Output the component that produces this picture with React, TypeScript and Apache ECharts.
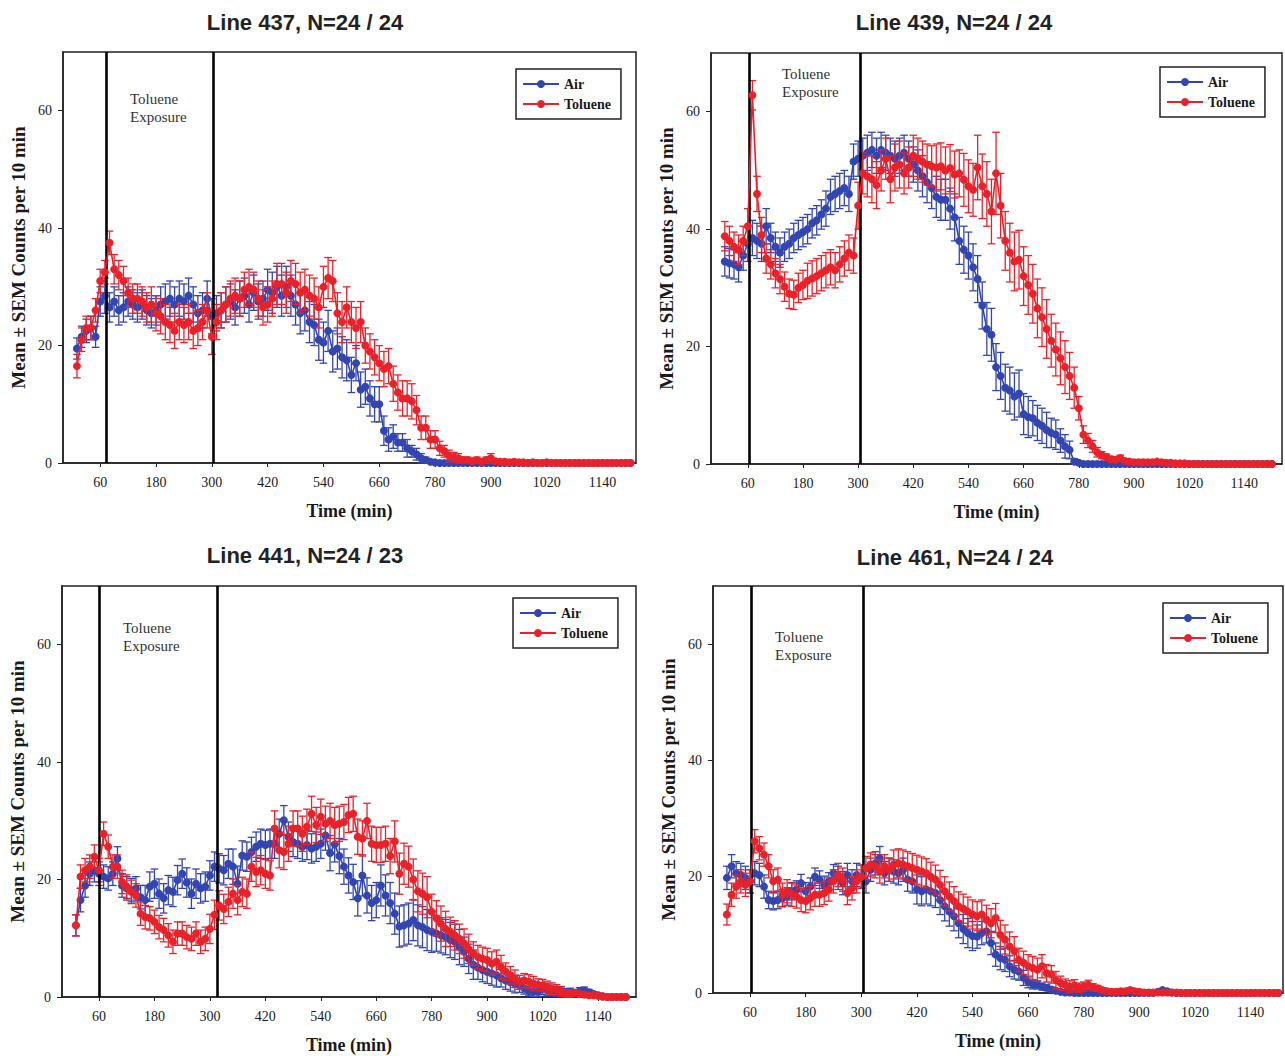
import React, { useEffect, useRef } from "react";
import * as echarts from "echarts";

// ---------- DATA ----------
// sampling times (min): 10, 20, ..., 1200
const SAMPLE_START = 10;
const SAMPLE_STEP = 10;
const SAMPLE_COUNT = 120;
const TIMES: number[] = Array.from({ length: SAMPLE_COUNT }, (_, i) => SAMPLE_START + i * SAMPLE_STEP);

const X_TICKS = [60, 180, 300, 420, 540, 660, 780, 900, 1020, 1140];
const Y_TICKS = [0, 20, 40, 60];

const TITLES = ["Line 437, N=24 / 24", "Line 439, N=24 / 24", "Line 441, N=24 / 23", "Line 461, N=24 / 24"];
const SERIES_NAMES = ["Air", "Toluene"];
const EXPOSURE_NOTE = "Toluene\nExposure";
const X_NAME = "Time (min)";
const Y_NAME = "Mean \u00b1 SEM Counts per 10 min";

// exposure start / end markers (min)
const EXPOSURE_437 = [72, 304];
const EXPOSURE_439 = [64, 304];
const EXPOSURE_441 = [60, 315];
const EXPOSURE_461 = [62, 304];

// ---- Line 437 ----
const L437_AIR = [
  19.5, 21.5, 22.5, 23, 21.5, 27.5, 28.5, 26.5, 27.5, 26, 26.5, 27.5,
  27, 26.5, 27, 26, 25.5, 26, 27, 27.5, 28, 27, 28, 27.5,
  28.5, 27, 25.5, 26, 28, 25, 25.5, 26, 27, 27.5, 26.5, 28,
  28.5, 27, 29, 27.5, 28, 29.5, 29, 30, 28.5, 30, 28.5, 27,
  25.5, 26, 24, 23.5, 21, 20.5, 22.5, 19, 19.5, 18, 17.5, 15,
  17, 12.5, 13, 11, 10, 10, 5.5, 4, 4.5, 3.5, 3.5, 2.5,
  2, 1.5, 0.8, 0.5, 0.2, 0.1, 0, 0, 0, 0, 0, 0,
  0, 0, 0, 0, 0, 0, 0, 0, 0, 0, 0, 0,
  0, 0, 0, 0, 0, 0, 0, 0, 0, 0, 0, 0,
  0, 0, 0, 0, 0, 0, 0, 0, 0, 0, 0, 0,
];
const L437_AIR_SEM = [
  1.8, 1.8, 2, 2, 1.8, 2.5, 3, 2.5, 2.5, 2.5, 2.5, 2.5,
  2.5, 2.5, 2.5, 2.5, 2.5, 2.5, 3, 3, 3, 3, 3, 3,
  3, 3, 3, 3, 3, 3, 3, 3, 3, 3, 3, 3,
  3, 3, 3, 3, 3, 3.5, 3.5, 3.5, 3.5, 3.5, 3.5, 3.5,
  3.5, 3.5, 3.5, 3.5, 3.5, 3.5, 3.5, 3.5, 3.5, 3.5, 3.5, 3,
  3, 3, 3, 3, 3, 3, 2.5, 2, 2, 1.5, 1.5, 1.5,
  1, 1, 0.8, 0.5, 0.3, 0.2, 0.1, 0, 0, 0, 0, 0,
  0, 0, 0, 0, 0, 0, 0, 0, 0, 0, 0, 0,
  0, 0, 0, 0, 0, 0, 0, 0, 0, 0, 0, 0,
  0, 0, 0, 0, 0, 0, 0, 0, 0, 0, 0, 0,
];
const L437_TOL = [
  16.5, 21, 23, 23, 26, 31, 32.5, 37.5, 33, 32, 31, 29,
  28, 28, 27.5, 26.5, 27, 25.5, 25, 24, 23.5, 22.5, 24, 23.5,
  24, 22.5, 23, 24, 26, 21.5, 24, 26, 27, 28, 28.5, 28,
  29.5, 30, 29.5, 28, 26.5, 27, 28, 30.5, 30.5, 29, 31, 30.5,
  29, 29.5, 28.5, 28, 26.5, 30, 31.5, 31, 25.5, 24, 26.5, 24,
  23, 24, 20, 19, 18, 17, 16, 16.5, 13.5, 12, 11, 11,
  10.5, 9, 6, 6, 4, 4, 2.5, 2, 1.2, 1, 0.8, 0.5,
  0.5, 0.3, 0.5, 0.2, 0.5, 0.8, 0.3, 0.2, 0.2, 0.1, 0.2, 0.1,
  0.1, 0, 0.1, 0, 0, 0.1, 0, 0, 0, 0, 0, 0,
  0, 0, 0, 0, 0, 0, 0, 0, 0, 0, 0, 0,
];
const L437_TOL_SEM = [
  2, 2, 2, 2, 2, 2, 2, 2, 2.5, 2.5, 2.5, 2.5,
  2.5, 2.5, 2.5, 2.5, 3, 3, 3, 3, 3, 3, 3, 3,
  3, 3, 3, 3, 3, 3, 3, 3, 3, 3, 3, 3,
  3, 3, 3, 3, 3, 3, 3, 3.5, 3.5, 3.5, 3.5, 3.5,
  3.5, 3.5, 3.5, 3.5, 3.5, 3.5, 3.5, 3.5, 3.5, 3.5, 3.5, 3.5,
  3.5, 3.5, 3, 3, 3, 3, 3, 3, 3, 3, 3, 3,
  3, 2.5, 2, 2, 1.5, 1.5, 1.2, 1, 1, 0.8, 0.8, 0.5,
  0.5, 0.5, 0.5, 0.3, 0.5, 0.8, 0.3, 0.2, 0.2, 0.1, 0.2, 0.1,
  0.1, 0, 0.1, 0, 0, 0.1, 0, 0, 0, 0, 0, 0,
  0, 0, 0, 0, 0, 0, 0, 0, 0, 0, 0, 0,
];

// ---- Line 439 ----
const L439_AIR = [
  34.5, 34.2, 34, 33.5, 35.5, 37.5, 38.5, 38, 37.5, 40.5, 38.5, 37,
  36, 37, 37.5, 38.5, 39, 39.5, 40, 41, 41.5, 42.5, 43.5, 45.5,
  46, 46.5, 47, 46, 51.5, 52, 52.5, 53, 53.5, 52.5, 53.5, 53,
  52.5, 52, 52.5, 53, 52, 51, 50, 49, 48, 47, 45.5, 45,
  45, 43.5, 42, 38, 36.5, 35.5, 33.5, 31.5, 27, 23, 22, 16.5,
  15, 13, 12.5, 11.5, 12, 8.5, 8, 7.8, 7, 6.5, 5.8, 5.3,
  5, 4, 3, 2.4, 0.4, 0.2, 0, 0, 0, 0, 0, 0,
  0, 0, 0, 0, 0, 0, 0, 0, 0, 0, 0, 0,
  0, 0, 0, 0, 0, 0, 0, 0, 0, 0, 0, 0,
  0, 0, 0, 0, 0, 0, 0, 0, 0, 0, 0, 0,
];
const L439_AIR_SEM = [
  2.5, 2.5, 2.5, 2.5, 2.5, 3, 3, 3, 3, 3, 2.5, 2.5,
  2.5, 2.5, 2.5, 2.5, 2.5, 2.5, 2.5, 2.5, 2.5, 2.5, 3, 3,
  3, 3, 3, 3, 3, 3, 3, 3, 3, 3, 3, 3,
  3, 3, 3, 3, 3, 3, 3.5, 3.5, 3.5, 3.5, 3.5, 3.5,
  3.5, 3.5, 4, 4, 4, 4, 4, 4, 4, 4.5, 4.5, 4,
  4, 4, 4, 4, 4, 3.5, 3.5, 3, 3, 3, 3, 2.5,
  2.5, 2, 2, 1.5, 0.5, 0.2, 0, 0, 0, 0, 0, 0,
  0, 0, 0, 0, 0, 0, 0, 0, 0, 0, 0, 0,
  0, 0, 0, 0, 0, 0, 0, 0, 0, 0, 0, 0,
  0, 0, 0, 0, 0, 0, 0, 0, 0, 0, 0, 0,
];
const L439_TOL = [
  38.8, 38, 37, 36.5, 38, 40.5, 62.8, 46, 39, 35, 34, 32.5,
  31.5, 30.2, 29, 28.8, 30, 30.5, 31.2, 31.6, 32, 32.5, 33, 33.5,
  33, 34, 35, 36, 35.5, 44, 49.5, 49, 48.5, 47.5, 50, 52,
  48.5, 50.5, 51, 49.5, 50.5, 52.5, 52, 51.5, 51, 50.7, 50.5, 50.7,
  50, 50.4, 49.3, 49.5, 48.4, 47.3, 46.7, 50.5, 47.3, 46, 43, 49.5,
  44, 38, 36, 34.5, 34.8, 32, 30.5, 29, 26.5, 25, 23, 21,
  19.5, 18, 16.5, 15, 13, 9.5, 5, 4, 3, 2, 1.5, 1.2,
  0.8, 0.7, 1, 0.5, 0.4, 0.3, 0.3, 0.3, 0.3, 0.3, 0.4, 0.3,
  0.2, 0.2, 0.1, 0.1, 0.1, 0, 0, 0, 0, 0, 0, 0,
  0, 0, 0, 0, 0, 0, 0, 0, 0, 0, 0, 0,
];
const L439_TOL_SEM = [
  2.5, 2.5, 2.5, 2.5, 2.5, 3, 2.5, 3, 3, 2.5, 2.5, 2.5,
  2.5, 2.5, 2.5, 2.5, 2.5, 2.5, 3, 3, 3, 3, 3, 3,
  3, 3, 3, 3, 3, 4, 3.5, 3.5, 4, 4, 3.5, 3.5,
  4, 4, 4, 3.5, 3.5, 3.5, 3.5, 3.5, 3.5, 3.5, 4, 4,
  4, 4, 4, 4, 4.5, 4.5, 4.5, 5.5, 5.5, 5.5, 5.5, 7,
  5.5, 5, 5, 5, 5, 5, 5, 5, 5, 5, 5, 4.5,
  4.5, 4.5, 4.5, 4, 3.5, 2, 1.5, 1.2, 1, 0.8, 0.6, 0.5,
  0.5, 0.3, 0.5, 0.3, 0.2, 0.2, 0.2, 0.2, 0.2, 0.2, 0.3, 0.2,
  0.1, 0.1, 0.1, 0.1, 0.1, 0, 0, 0, 0, 0, 0, 0,
  0, 0, 0, 0, 0, 0, 0, 0, 0, 0, 0, 0,
];

// ---- Line 441 ----
const L441_AIR = [
  12.2, 16.5, 19, 21, 21.6, 21, 20.5, 20.2, 21, 23.6, 19, 18.5,
  18.2, 18.5, 17, 16.5, 18.8, 19.3, 17.6, 16.8, 18.2, 17.9, 19.9, 21,
  19.5, 17.6, 19.3, 18.5, 18.8, 20.7, 22.2, 21.9, 21.6, 22.7, 22.2, 19.3,
  24.1, 23.9, 24.7, 25.6, 26.1, 25.9, 26.1, 26.1, 27.8, 30.1, 27.3, 26.4,
  26.1, 25.6, 25.9, 25.3, 25.6, 26.1, 27.5, 24.5, 26, 24, 22.2, 20.7,
  19.6, 16.8, 20.7, 17.3, 16, 16.5, 19, 17.3, 16, 14.2, 12, 12.2,
  12.5, 13.1, 12.2, 11.9, 11.4, 11.1, 10.8, 10.5, 10.2, 9.7, 9.4, 8.5,
  7.7, 6.5, 5.5, 5, 4.6, 4.3, 4, 3.7, 3.2, 2.8, 2.5, 2.2,
  2, 1.5, 1, 0.9, 0.9, 1.4, 1.2, 1, 0.9, 1, 0.8, 0.9,
  0.7, 1, 1.1, 0.8, 0.5, 0.3, 0.1, 0, 0, 0, 0, 0,
];
const L441_AIR_SEM = [
  1.8, 2, 2, 2, 2, 2, 2, 2, 2, 2, 2, 2,
  2, 2, 2, 2.5, 2.5, 2.5, 2.5, 2.5, 2.5, 2.5, 2.5, 2.5,
  2.5, 2.5, 2.5, 2.5, 2.5, 2.5, 2.5, 2.5, 2.5, 2.5, 3, 3,
  2.5, 2.5, 2.5, 2.5, 2.5, 2.5, 2.5, 2.5, 2.5, 2.5, 2.5, 2.5,
  2.5, 2.5, 2.5, 2.5, 2.5, 2.5, 2.5, 3, 3, 3, 3, 3,
  3, 3, 3.5, 3, 3, 3, 3.5, 3.5, 3.5, 3.5, 3.5, 3.5,
  3.5, 3.5, 3.5, 3.5, 3.5, 3.5, 3, 3, 3, 3, 3, 3,
  2.5, 2.5, 2.5, 2, 2, 2, 2, 2, 1.5, 1.5, 1.5, 1.5,
  1.2, 1, 0.8, 0.8, 0.8, 1, 1, 0.8, 0.8, 0.8, 0.6, 0.6,
  0.5, 0.6, 0.6, 0.5, 0.4, 0.3, 0.1, 0, 0, 0, 0, 0,
];
const L441_TOL = [
  12.2, 20.5, 21.6, 22.2, 23.9, 21.6, 27.8, 25.6, 22.2, 22.2, 19.6, 18.8,
  17.9, 17.3, 14.2, 13.6, 13.4, 12.8, 11.9, 11.4, 10.5, 9.4, 10.8, 10.8,
  10.2, 9.9, 10.8, 9.4, 9.9, 11.6, 14, 15.6, 15, 16.2, 17.6, 16.5,
  17.9, 17.6, 22.2, 21.3, 21.6, 21, 20.7, 28.7, 25, 24.7, 26.1, 28.7,
  28.7, 27.8, 29, 31.2, 29.3, 30.7, 29.5, 30, 29.3, 29.5, 29.8, 31,
  31.2, 27.3, 27, 30, 26.1, 25.9, 25.9, 26.1, 24, 26.5, 21, 22.7,
  22.2, 20, 18, 17.6, 17, 14.5, 13.4, 12.5, 11.6, 11.1, 10.5, 9.9,
  9.1, 8.2, 7.4, 6.8, 6.5, 6.3, 5.7, 6, 5.1, 4.3, 3.7, 3.1,
  2.5, 2.8, 2.6, 2.3, 2.1, 2, 1.7, 1.4, 1.3, 0.9, 0.6, 0.6,
  0.7, 0.5, 0.4, 0.3, 0.3, 0.2, 0.1, 0, 0, 0, 0, 0,
];
const L441_TOL_SEM = [
  1.8, 2, 2, 2, 2, 2, 2, 2, 2, 2, 2, 2,
  2, 2, 2, 2, 2, 2, 2, 2, 2, 2, 2, 2,
  2, 2, 2, 2, 2, 2.5, 2.5, 2.5, 2.5, 2.5, 2.5, 2.5,
  2.5, 2.5, 2.5, 2.5, 2.5, 2.5, 2.5, 3, 3, 3, 3, 3,
  3, 3, 3, 3, 3, 3, 3, 3, 3, 3, 3, 3,
  3, 3, 3, 3, 3, 3, 3, 3, 3, 3.5, 3.5, 3.5,
  3.5, 3.5, 3.5, 3.5, 3.5, 3, 3, 3, 3, 2.5, 2.5, 2.5,
  2.5, 2.5, 2, 2, 2, 2, 2, 2, 2, 1.5, 1.5, 1.5,
  1.2, 1.2, 1.2, 1.2, 1, 1, 1, 1, 0.8, 0.8, 0.6, 0.6,
  0.5, 0.4, 0.3, 0.3, 0.2, 0.2, 0.1, 0, 0, 0, 0, 0,
];

// ---- Line 461 ----
const L461_AIR = [
  19.8, 21.8, 20.6, 20.3, 19.8, 19.2, 20.6, 20.3, 18.3, 16, 15.8, 16,
  16.3, 16.6, 17.5, 17.8, 18.9, 17.5, 18.3, 20, 19.5, 18.6, 19.2, 20.6,
  19.8, 18.9, 20.3, 19.2, 20.3, 20, 19.2, 21.2, 22.3, 23.2, 20.6, 21.2,
  20.9, 20.6, 21.2, 19.5, 19.2, 17.8, 17.5, 17.8, 17.5, 17.2, 16, 14.9,
  14, 13.2, 12, 11, 10.3, 9.8, 9.7, 10.3, 10.6, 8.6, 6.6, 6,
  5.7, 4.6, 4, 3.7, 2.6, 1.9, 1.5, 1.4, 1.1, 0.9, 0.6, 0.4,
  0.2, 0.1, 0.1, 0, 0, 0, 0, 0, 0, 0, 0, 0,
  0, 0, 0, 0, 0, 0, 0, 0, 0, 0.2, 0.5, 0.3,
  0.1, 0, 0, 0, 0, 0, 0, 0, 0, 0, 0, 0,
  0, 0, 0, 0, 0, 0, 0, 0, 0, 0, 0, 0,
];
const L461_AIR_SEM = [
  2, 2, 2, 2, 2, 2, 2, 2, 2, 1.5, 1.5, 1.5,
  1.5, 1.5, 1.5, 1.5, 1.5, 1.5, 1.5, 1.5, 1.5, 1.5, 1.5, 1.5,
  2, 2, 2, 2, 2, 2, 2, 2, 2, 2, 2, 2,
  2, 2, 2, 2, 2, 2.5, 2.5, 2.5, 2.5, 2.5, 2.5, 2.5,
  2.5, 2.5, 2.5, 2.5, 2.5, 2.5, 2, 2, 2, 2, 2, 2,
  2, 1.8, 1.6, 1.5, 1.3, 1, 0.8, 0.7, 0.6, 0.5, 0.4, 0.3,
  0.2, 0.1, 0.1, 0, 0, 0, 0, 0, 0, 0, 0, 0,
  0, 0, 0, 0, 0, 0, 0, 0, 0, 0.2, 0.3, 0.2,
  0.1, 0, 0, 0, 0, 0, 0, 0, 0, 0, 0, 0,
  0, 0, 0, 0, 0, 0, 0, 0, 0, 0, 0, 0,
];
const L461_TOL = [
  13.5, 16.9, 18.3, 19.2, 18.6, 19.2, 26.1, 24.9, 23.8, 21.8, 19.2, 19.5,
  16.9, 17.5, 16.9, 16.6, 16, 15.8, 16.3, 16.9, 16.9, 17.2, 17.8, 19.2,
  20.3, 19.5, 17.2, 18, 19.2, 20, 21.5, 22.1, 21.8, 20.9, 21.8, 21.2,
  22.1, 22.3, 22.1, 21.8, 21.5, 21.2, 20.9, 20.6, 20, 19.5, 18.6, 17.5,
  16.6, 15.8, 14.9, 14.5, 14, 13.5, 13.2, 13.5, 12.6, 12, 12.9, 10,
  9.2, 8, 7.2, 5.7, 5.2, 4.6, 4.3, 4, 4.6, 3.4, 3.2, 2.2,
  1.7, 1.4, 1.1, 1.3, 0.9, 1.1, 1.4, 1, 0.8, 0.5, 0.3, 0.2,
  0.2, 0.3, 0.3, 0.5, 0.3, 0.2, 0.1, 0.1, 0.1, 0.1, 0.1, 0.1,
  0.1, 0.1, 0, 0, 0, 0, 0, 0, 0, 0, 0, 0,
  0, 0, 0, 0, 0, 0, 0, 0, 0, 0, 0, 0,
];
const L461_TOL_SEM = [
  1.8, 2, 2, 2, 2, 2, 2, 2, 2, 2, 2, 2,
  2, 2, 2, 2, 2, 2, 2, 2, 2, 2, 2, 2,
  2, 2, 2, 2, 2, 2, 2, 2, 2, 2, 2, 2,
  2.5, 2.5, 2.5, 2.5, 2.5, 2.5, 2.5, 2.5, 2.5, 2.5, 2.5, 2.5,
  2.5, 2.5, 2.5, 2.5, 2.5, 2.5, 2.5, 2.5, 2.5, 2.5, 2.5, 2.5,
  2.5, 2.5, 2.5, 2, 2, 2, 2, 2, 2, 1.5, 1.5, 1.5,
  1.2, 1, 1, 1, 0.8, 0.8, 0.8, 0.6, 0.5, 0.4, 0.3, 0.2,
  0.2, 0.3, 0.3, 0.4, 0.3, 0.2, 0.1, 0, 0, 0, 0, 0,
  0, 0, 0, 0, 0, 0, 0, 0, 0, 0, 0, 0,
  0, 0, 0, 0, 0, 0, 0, 0, 0, 0, 0, 0,
];

const PANEL_DATA = [
  { air: L437_AIR, airSem: L437_AIR_SEM, tol: L437_TOL, tolSem: L437_TOL_SEM, exposure: EXPOSURE_437 },
  { air: L439_AIR, airSem: L439_AIR_SEM, tol: L439_TOL, tolSem: L439_TOL_SEM, exposure: EXPOSURE_439 },
  { air: L441_AIR, airSem: L441_AIR_SEM, tol: L441_TOL, tolSem: L441_TOL_SEM, exposure: EXPOSURE_441 },
  { air: L461_AIR, airSem: L461_AIR_SEM, tol: L461_TOL, tolSem: L461_TOL_SEM, exposure: EXPOSURE_461 },
];

// ---------- LAYOUT / STYLE ----------
const LAYOUT = [
  { left: 63, top: 52, width: 573, height: 411, xMax: 1212, titleX: 300, titleY: 6, legX: 516, legY: 69, noteX: 130, noteY: 90 },
  { left: 711, top: 53, width: 571, height: 411, xMax: 1222, titleX: 949, titleY: 6, legX: 1160, legY: 67, noteX: 782, noteY: 65 },
  { left: 62, top: 586, width: 574, height: 411, xMax: 1222, titleX: 300, titleY: 539, legX: 513, legY: 598, noteX: 123, noteY: 619 },
  { left: 713, top: 586, width: 570, height: 407, xMax: 1210, titleX: 950, titleY: 541, legX: 1163, legY: 603, noteX: 775, noteY: 628 },
];
const X_MIN = -20;
const BLUE = "#3345b0";
const RED = "#e8222a";
const SERIF = "'Liberation Serif', 'Times New Roman', serif";
const SANS = "'Liberation Sans', Arial, sans-serif";
const INK = "#1a1a1a";

function errData(vals: number[], sems: number[]) {
  const out: number[][] = [];
  vals.forEach((v, i) => {
    const e = sems[i];
    if (e > 0) out.push([TIMES[i], Math.max(0, v - e), v + e]);
  });
  return out;
}

function errSeries(name: string, idx: number, color: string, data: number[][], z: number) {
  return {
    name,
    type: "custom",
    xAxisIndex: idx,
    yAxisIndex: idx,
    z,
    silent: true,
    encode: { x: 0, y: [1, 2] },
    data,
    renderItem: (_params: any, api: any) => {
      const x = api.value(0);
      const lo = api.coord([x, api.value(1)]);
      const hi = api.coord([x, api.value(2)]);
      const hw = 3.8;
      const st = { stroke: color, lineWidth: 1.3 };
      return {
        type: "group",
        children: [
          { type: "line", shape: { x1: lo[0], y1: lo[1], x2: hi[0], y2: hi[1] }, style: st },
          { type: "line", shape: { x1: hi[0] - hw, y1: hi[1], x2: hi[0] + hw, y2: hi[1] }, style: st },
          { type: "line", shape: { x1: lo[0] - hw, y1: lo[1], x2: lo[0] + hw, y2: lo[1] }, style: st },
        ],
      };
    },
  };
}

function lineSeries(name: string, idx: number, color: string, vals: number[], z: number, extra: any = {}) {
  return {
    name,
    type: "line",
    xAxisIndex: idx,
    yAxisIndex: idx,
    z,
    data: vals.map((v, i) => [TIMES[i], v]),
    symbol: "circle",
    symbolSize: 8,
    showSymbol: true,
    lineStyle: { color, width: 1.6 },
    itemStyle: { color },
    ...extra,
  };
}

const plainNumber = (v: number) => String(v);

function buildOption() {
  const grid: any[] = [];
  const xAxis: any[] = [];
  const yAxis: any[] = [];
  const title: any[] = [];
  const legend: any[] = [];
  const series: any[] = [];
  const graphic: any[] = [];

  PANEL_DATA.forEach((p, i) => {
    const L = LAYOUT[i];
    grid.push({
      left: L.left, top: L.top, width: L.width, height: L.height,
      show: true, borderColor: "#222", borderWidth: 1.5, backgroundColor: "transparent",
    });
    xAxis.push({
      type: "value", gridIndex: i, min: X_MIN, max: L.xMax,
      name: X_NAME, nameLocation: "middle", nameGap: 39,
      nameTextStyle: { fontFamily: SERIF, fontWeight: "bold", fontSize: 18, color: INK },
      axisLine: { show: true, onZero: false, lineStyle: { color: "#222", width: 1.5 } },
      axisTick: { show: true, customValues: X_TICKS, length: 4, lineStyle: { color: "#222" } },
      axisLabel: { customValues: X_TICKS, formatter: plainNumber, fontFamily: SERIF, fontSize: 14, color: INK, margin: 12 },
      splitLine: { show: false },
    });
    yAxis.push({
      type: "value", gridIndex: i, min: 0, max: 70,
      name: Y_NAME, nameLocation: "middle", nameGap: 35,
      nameTextStyle: { fontFamily: SERIF, fontWeight: "bold", fontSize: 19, color: INK },
      axisLine: { show: true, onZero: false, lineStyle: { color: "#222", width: 1.5 } },
      axisTick: { show: true, customValues: Y_TICKS, length: 5, lineStyle: { color: "#222" } },
      axisLabel: { customValues: Y_TICKS, formatter: plainNumber, fontFamily: SERIF, fontSize: 14, color: INK, margin: 11 },
      splitLine: { show: false },
    });
    title.push({
      text: TITLES[i], left: L.titleX, top: L.titleY, textAlign: "center",
      textStyle: { fontFamily: SANS, fontWeight: "bold", fontSize: 22, color: "#222" },
    });
    legend.push({
      data: SERIES_NAMES, orient: "vertical", left: L.legX, top: L.legY,
      borderColor: "#222", borderWidth: 1.5, padding: [8, 10, 8, 6], itemGap: 6,
      itemWidth: 36, itemHeight: 10, selectedMode: false,
      textStyle: { fontFamily: SERIF, fontWeight: "bold", fontSize: 14, color: INK },
    });
    series.push(errSeries(SERIES_NAMES[0] + " SEM " + i, i, BLUE, errData(p.air, p.airSem), 2));
    series.push(lineSeries(SERIES_NAMES[0], i, BLUE, p.air, 3));
    series.push(errSeries(SERIES_NAMES[1] + " SEM " + i, i, RED, errData(p.tol, p.tolSem), 4));
    series.push(
      lineSeries(SERIES_NAMES[1], i, RED, p.tol, 5, {
        markLine: {
          silent: true, symbol: "none", label: { show: false },
          lineStyle: { color: "#000", width: 2.6, type: "solid" },
          data: p.exposure.map((x) => ({ xAxis: x })),
        },
      })
    );
    graphic.push({
      type: "text", left: L.noteX, top: L.noteY, z: 20,
      style: { text: EXPOSURE_NOTE, fontFamily: SERIF, fontSize: 15, lineHeight: 18, fill: "#333" },
    });
  });

  return { animation: false, backgroundColor: "#fff", grid, xAxis, yAxis, title, legend, series, graphic };
}

export default function App() {
  const ref = useRef<HTMLDivElement>(null);
  useEffect(() => {
    if (!ref.current) return;
    const chart = echarts.init(ref.current, undefined, { renderer: "svg" });
    chart.setOption(buildOption() as any);
    return () => chart.dispose();
  }, []);
  return (
    <div
      ref={ref}
      style={{ position: "absolute", left: 0, top: 0, width: 1285, height: 1056, background: "#fff" }}
    />
  );
}
